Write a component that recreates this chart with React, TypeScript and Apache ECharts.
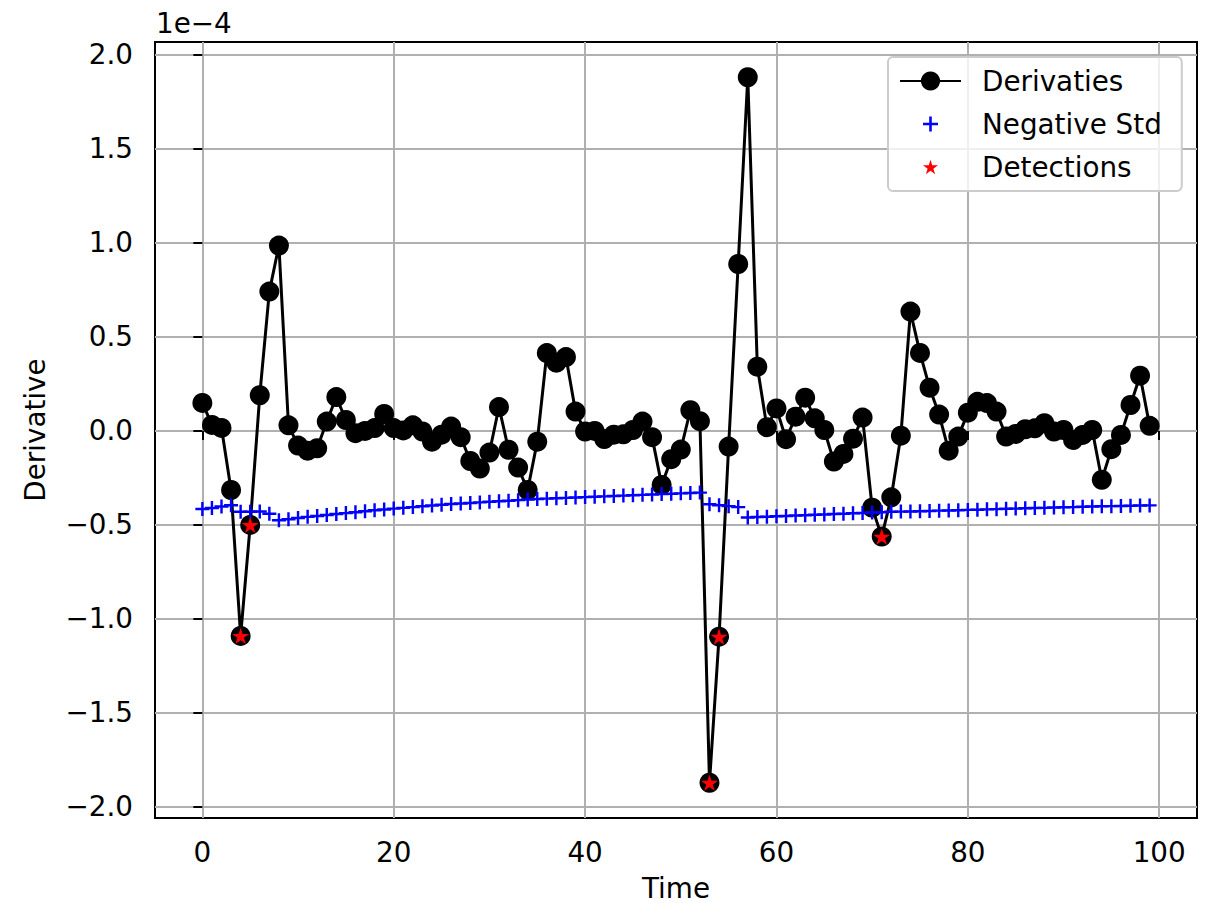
import React, { useEffect, useRef } from "react";
import * as echarts from "echarts";

// ---- data (values in units of 1e-4) ----
const derivatives: number[] = [
  0.149, 0.032, 0.016, -0.314, -1.09, -0.5, 0.19, 0.741, 0.986, 0.03,
  -0.078, -0.105, -0.092, 0.05, 0.18, 0.058, -0.012, 0.0, 0.015, 0.09,
  0.015, 0.003, 0.03, -0.003, -0.057, -0.02, 0.023, -0.033, -0.16, -0.2,
  -0.115, 0.127, -0.1, -0.195, -0.314, -0.057, 0.414, 0.363, 0.393, 0.103,
  -0.003, 0.0, -0.043, -0.02, -0.018, 0.005, 0.05, -0.033, -0.287, -0.15,
  -0.099, 0.11, 0.052, -1.871, -1.094, -0.083, 0.888, 1.881, 0.342, 0.02,
  0.12, -0.044, 0.076, 0.177, 0.067, 0.005, -0.163, -0.122, -0.041, 0.071,
  -0.408, -0.562, -0.353, -0.025, 0.635, 0.415, 0.23, 0.087, -0.105, -0.03,
  0.097, 0.155, 0.148, 0.103, -0.03, -0.016, 0.009, 0.014, 0.041, -0.003,
  0.005, -0.048, -0.021, 0.005, -0.26, -0.097, -0.021, 0.138, 0.294, 0.027,
];

const negativeStd: number[] = [
  -0.415, -0.41, -0.402, -0.395, -0.43, -0.43, -0.428, -0.44, -0.475, -0.47,
  -0.463, -0.457, -0.452, -0.447, -0.442, -0.437, -0.432, -0.427, -0.422, -0.418,
  -0.413, -0.409, -0.405, -0.401, -0.397, -0.393, -0.389, -0.386, -0.383, -0.38,
  -0.377, -0.374, -0.371, -0.368, -0.365, -0.362, -0.36, -0.358, -0.356, -0.354,
  -0.352, -0.35, -0.348, -0.346, -0.344, -0.342, -0.34, -0.338, -0.336, -0.334,
  -0.332, -0.33, -0.328, -0.39, -0.395, -0.4, -0.405, -0.46, -0.458, -0.456,
  -0.454, -0.452, -0.45, -0.448, -0.446, -0.444, -0.442, -0.44, -0.438, -0.436,
  -0.434, -0.432, -0.43, -0.429, -0.428, -0.427, -0.426, -0.424, -0.423, -0.422,
  -0.42, -0.419, -0.417, -0.416, -0.414, -0.413, -0.411, -0.41, -0.409, -0.407,
  -0.406, -0.405, -0.403, -0.402, -0.401, -0.4, -0.399, -0.398, -0.397, -0.396,
];

const detectionTimes: number[] = [4, 5, 53, 54, 71];
const detectionValues: number[] = [-1.09, -0.5, -1.871, -1.094, -0.562];

const xTicks: number[] = [0, 20, 40, 60, 80, 100];
const yTicks: number[] = [-2, -1.5, -1, -0.5, 0, 0.5, 1, 1.5, 2];

const FONT = "DejaVu Sans";
const FS = 27.8;

const PLUS =
  "path://M10.7,4.5 H13.3 V10.7 H19.5 V13.3 H13.3 V19.5 H10.7 V13.3 H4.5 V10.7 H10.7 Z";
const PLUS_LEGEND =
  "path://M0,0 L0.01,0 L0,0.01 Z M10.7,4.5 H13.3 V10.7 H19.5 V13.3 H13.3 V19.5 H10.7 V13.3 H4.5 V10.7 H10.7 Z M24,24 L23.99,24 L24,23.99 Z";
const STAR_CORE =
  "M12,4.867 L13.77,10.316 L19.5,10.316 L14.865,13.684 L16.635,19.133 L12,15.766 L7.365,19.133 L9.135,13.684 L4.5,10.316 L10.23,10.316 Z";
const STAR = "path://" + STAR_CORE;
const STAR_LEGEND =
  "path://M0,0 L0.01,0 L0,0.01 Z " + STAR_CORE + " M24,24 L23.99,24 L24,23.99 Z";

const fmtY = (v: number) => (v < 0 ? "\u2212" : "") + Math.abs(v).toFixed(1);

export default function App() {
  const ref = useRef<HTMLDivElement>(null);

  useEffect(() => {
    document.body.style.margin = "0";
    if (!ref.current) return;
    const chart = echarts.init(ref.current, null, { renderer: "svg" });

    const derivData = derivatives.map((v, i) => [i, v]);
    const stdData = negativeStd.map((v, i) => [i, v]);
    const detData = detectionTimes.map((t, k) => [t, detectionValues[k]]);

    chart.setOption({
      animation: false,
      backgroundColor: "#ffffff",
      grid: {
        left: 155,
        right: 17,
        top: 42,
        bottom: 85,
        outerBoundsMode: "none",
        containLabel: false,
        show: true,
        borderColor: "#000000",
        borderWidth: 2,
        backgroundColor: "transparent",
      },
      xAxis: {
        type: "value",
        min: -4.95,
        max: 103.95,
        name: "Time",
        nameLocation: "middle",
        nameGap: 56,
        nameTextStyle: { fontFamily: FONT, fontSize: FS, lineHeight: 28, color: "#000" },
        axisLine: { show: false },
        axisTick: {
          show: true,
          length: 9,
          customValues: xTicks,
          lineStyle: { color: "#000", width: 2 },
        },
        axisLabel: {
          customValues: xTicks,
          margin: 20,
          fontFamily: FONT,
          fontSize: FS,
          color: "#000",
          formatter: (v: number) => String(v),
        },
        splitLine: { show: true, lineStyle: { color: "#b0b0b0", width: 2 } },
      },
      yAxis: {
        type: "value",
        min: -2.0586,
        max: 2.0686,
        name: "Derivative",
        nameLocation: "middle",
        nameGap: 106,
        nameRotate: 90,
        nameTextStyle: { fontFamily: FONT, fontSize: FS, color: "#000" },
        axisLine: { show: false },
        axisTick: {
          show: true,
          length: 9,
          customValues: yTicks,
          lineStyle: { color: "#000", width: 2 },
        },
        axisLabel: {
          customValues: yTicks,
          margin: 22,
          fontFamily: FONT,
          fontSize: FS,
          color: "#000",
          formatter: fmtY,
        },
        splitLine: { show: true, lineStyle: { color: "#b0b0b0", width: 2 } },
      },
      legend: {
        orient: "vertical",
        left: 888,
        top: 57,
        padding: [10, 20, 10, 11],
        itemWidth: 61,
        itemHeight: 24,
        itemGap: 15,
        backgroundColor: "rgba(255,255,255,0.8)",
        borderColor: "#cccccc",
        borderWidth: 2,
        borderRadius: 5,
        textStyle: {
          fontFamily: FONT,
          fontSize: FS,
          color: "#000",
          padding: [0, 0, 0, 16],
        },
        data: [
          { name: "Derivaties" },
          { name: "Negative Std", icon: PLUS_LEGEND },
          { name: "Detections", icon: STAR_LEGEND },
        ],
      },
      graphic: [
        {
          type: "text",
          left: 156,
          top: 9,
          style: { text: "1e\u22124", font: `${FS}px "${FONT}"`, fill: "#000" },
        },
      ],
      series: [
        {
          name: "Derivaties",
          type: "line",
          z: 2,
          data: derivData,
          symbol: "circle",
          symbolSize: 20,
          showAllSymbol: true,
          itemStyle: { color: "#000", opacity: 1 },
          lineStyle: { color: "#000", width: 3 },
        },
        {
          name: "Negative Std",
          type: "scatter",
          z: 3,
          data: stdData,
          symbol: PLUS,
          symbolSize: 14,
          itemStyle: { color: "#0000ff", opacity: 1 },
        },
        {
          name: "Detections",
          type: "scatter",
          z: 4,
          data: detData,
          symbol: STAR,
          symbolSize: [17, 16.2],
          itemStyle: { color: "#ff0000", opacity: 1 },
        },
      ],
    });

    return () => chart.dispose();
  }, []);

  return <div ref={ref} style={{ width: 1214, height: 903 }} />;
}
